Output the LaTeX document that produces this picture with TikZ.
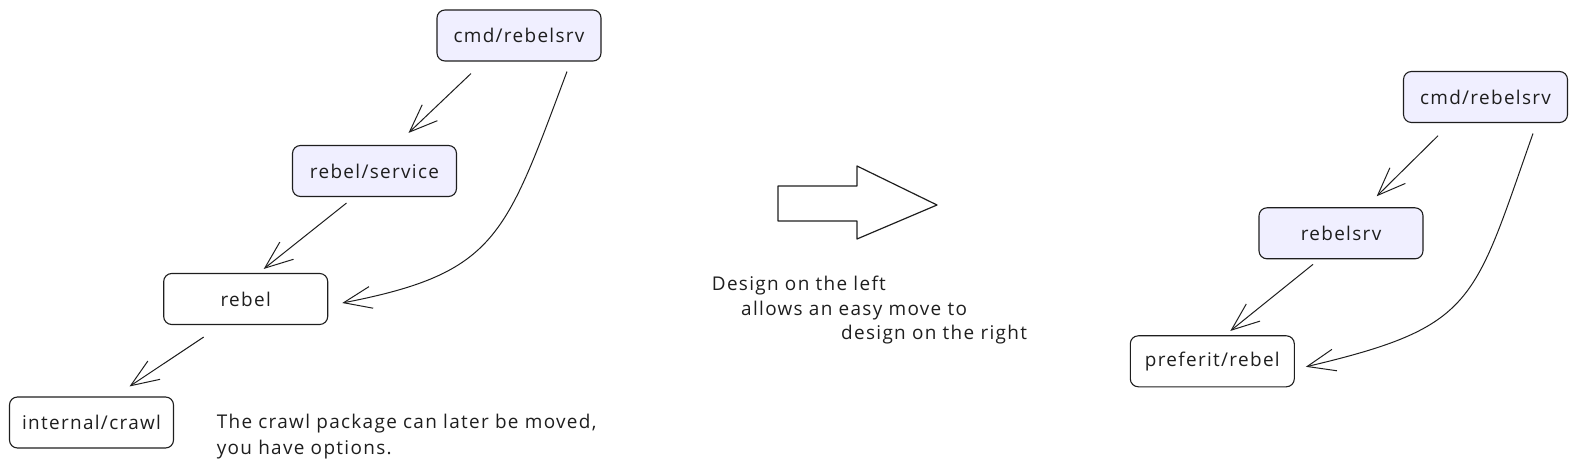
\documentclass[tikz,border=0pt]{standalone}
\usepackage{fontspec}
\setmainfont[LetterSpace=7]{Open Sans}
\usepackage{tikz}
\usetikzlibrary{arrows.meta}

\definecolor{ink}{HTML}{1E1E1E}
\definecolor{lavender}{HTML}{F0EFFF}

\begin{document}
\begin{tikzpicture}[x=1bp,y=-1bp,
  pkg/.style={draw=ink,line width=1.1bp,rounded corners=8bp,minimum width=164bp,
    minimum height=51bp,inner sep=0pt,font=\fontsize{19}{22}\selectfont,text=ink},
  main/.style={pkg,fill=lavender},
  link/.style={draw=ink,line width=1bp,-{Straight Barb[length=28bp,width=22bp,line width=1bp]}},
  note/.style={anchor=west,inner sep=0pt,font=\fontsize{19}{26}\selectfont,text=ink}]
  \useasboundingbox (0,0) rectangle (1577,471);
  % design on the left
  \node[main] (cmdA) at (519.0,35.5) {cmd/rebelsrv};
  \node[main] (service) at (374.5,171.0) {rebel/service};
  \node[pkg] (rebelA) at (245.7,299.0) {rebel};
  \node[pkg] (crawl) at (91.5,422.5) {internal/crawl};
  \node[note,align=left] (crawlnote) at (216.6,437.0) {The crawl package can later be moved,\\you have options.};
  \draw[link] ([xshift=-48bp,yshift=-12bp]cmdA.south) -- ([xshift=34bp,yshift=12bp]service.north);
  \draw[link] ([xshift=-28bp,yshift=-6bp]service.south) -- ([xshift=18bp,yshift=4bp]rebelA.north);
  \draw[link] ([xshift=-42bp,yshift=-12bp]rebelA.south) -- ([xshift=38bp,yshift=10bp]crawl.north);
  \draw[link] ([xshift=48bp,yshift=-10bp]cmdA.south) .. controls +(-62,165) and +(155,-30) .. ([xshift=14bp,yshift=-4bp]rebelA.east);
  % the move
  \draw[ink,line width=1.2bp,line join=round] (778,186) -- (857,186) -- (857,166) -- (937,205)
    -- (857,239) -- (857,221) -- (778,221) -- cycle;
  \node[note] (moveA) at (711.7,285.6) {Design on the left};
  \node[note] (moveB) at (741.0,310.8) {allows an easy move to};
  \node[note] (moveC) at (841.0,334.9) {design on the right};
  % design on the right
  \node[main] (cmdB) at (1485.5,97.0) {cmd/rebelsrv};
  \node[main] (rebelsrv) at (1341.0,233.3) {rebelsrv};
  \node[pkg] (preferit) at (1212.3,361.3) {preferit/rebel};
  \draw[link] ([xshift=-47.5bp,yshift=-12.7bp]cmdB.south) -- ([xshift=35.7bp,yshift=11bp]rebelsrv.north);
  \draw[link] ([xshift=-28bp,yshift=-5bp]rebelsrv.south) -- ([xshift=18bp,yshift=4.3bp]preferit.north);
  \draw[link] ([xshift=47.5bp,yshift=-10.4bp]cmdB.south) .. controls +(-60,170) and +(170,-40) .. ([xshift=11bp,yshift=-5.5bp]preferit.east);
\end{tikzpicture}
\end{document}
